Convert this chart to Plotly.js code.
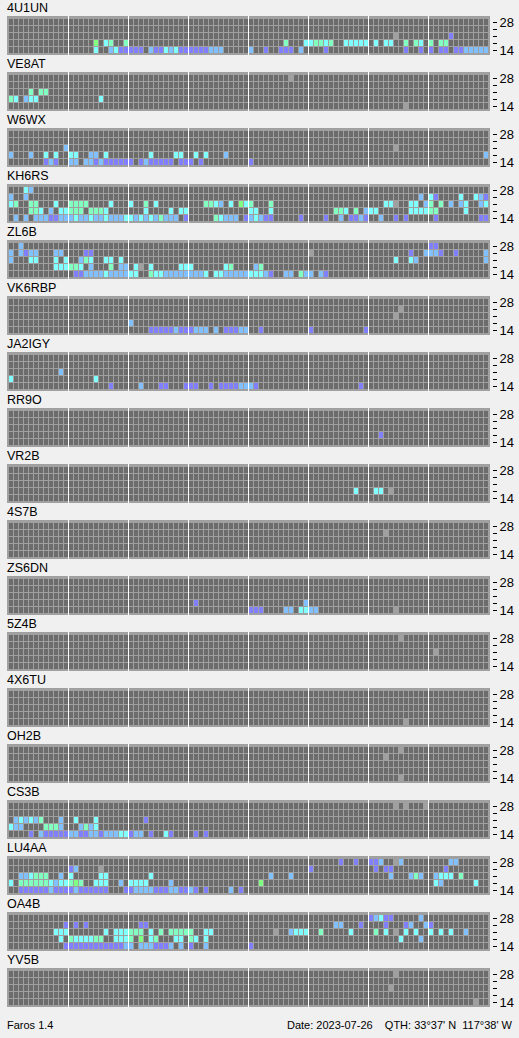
<!DOCTYPE html>
<html><head><meta charset="utf-8">
<script src="https://cdn.plot.ly/plotly-3.0.1.min.js"></script>
<style>html,body{margin:0;padding:0;background:#f0f0f0;overflow:hidden}</style>
</head><body><div id="chart" style="width:519px;height:1038px"></div>
<script>
// Beacon names, top to bottom
const beacons = ["4U1UN","VE8AT","W6WX","KH6RS","ZL6B","VK6RBP","JA2IGY","RR9O","VR2B","4S7B","ZS6DN","5Z4B","4X6TU","OH2B","CS3B","LU4AA","OA4B","YV5B"];
// Band rows bottom -> top (14,18,21,24,28 MHz); only ends labelled
const bandTicks = ["14","","","","28"];
const slotCount = 96;           // 15-minute slots over 24 h
const sectionSlots = 12;        // white separator every 3 h
// level: 0 = no copy, 1..5 = signal level, x = not monitored
const levelColors = ["#6c6c6c","#8080ff","#80c0ff","#80ffff","#80ffc0","#80ff80"];

// Each beacon: rows [28, 24, 21, 18, 14]; tokens "slot:level" or "from-to:level"
const d_4U1UN = ["", "", "77:x 88:1",
  "17:5 19:3 20:4 23:4 55:4 59:3 60:3 61:4 62:4 63:3 64:4 67-71:3 73:3 75:3 76:3 79:4 81:4 82:3 84:4 86:4 87:4",
  "17:3 20:2 21:3 22-26:1 28:2 29:1 30:1 31:3 32:2 33:3 34-39:1 40-42:2 48:2 51:1 54-56:1 58:2 63:1 79:1 82:1 84:1 86:1 87:1 89:1 90:1 91-95:2"];
const d_VE8AT = ["56:x", "", "4:4 6:4 7:4", "0:4 1:3 3:2 4:3 5:3 18:3", "79:x"];
const d_W6WX = ["", "", "11:2 77:x",
  "0:2 4:2 7:3 9:3 12:3 13:3 16:2 17:2 19:3 28:3 33:3 34:3 37:3 39:3 43:2 95:2",
  "7:1 8:2 9:1 12:2 13:2 15:2 16:2 17:1 18:2 19-24:1 26:1 27:2 28-32:1 34-36:1 38:1 48:1"];
const d_KH6RS = ["3:3 4:2",
  "0:2 3:2 82:2 84:3 85:1 90:3 93:3 94:2 95:1",
  "0:3 1:4 4:4 5:4 9:3 12:4 13:4 14:4 15:4 20:3 24:3 27:4 29:3 39:4 40:4 41:3 42:2 44:3 46:5 47:3 48:4 52:4 75:3 76:3 77:x 80:3 81:3 83:2 84:4 86:4 88:2 90:2 91:3 94:2 95:3",
  "4:4 5:4 6:3 8:2 10:3 11:3 12:4 13:4 14:4 16:4 17:4 18:4 19:3 27:3 32:3 34:3 35:3 48:3 49:3 52:3 65:4 66:4 67:3 69:4 71:2 72:3 73:3 80-83:3 84:4 85:4 91:3",
  "1:2 3:2 5:2 6:2 7:2 8:1 9:1 10:2 11:2 12:2 13:3 14:2 15:2 16:3 17:2 18:2 19:3 20-22:2 23:3 24:3 25:2 26:3 27:2 28:3 29:2 30:4 31-33:2 35:1 41:4 42:3 43-45:2 47:1 48:2 49:3 50:2 51:1 52:1 58:1 63:1 66:2 68:1 69:1 70:2 71:1 74:2 77:1 79:1 85:1 94:1 95:1"];
const d_ZL6B = ["2:2 84:1 85:1",
  "0:2 2:2 3:1 4:2 5:2 9:2 10:2 15:1 16:1 60:x 80:1 83:2 84:2 85:2 86:1 89:1 95:2",
  "0:2 4:3 5:3 9:3 11:3 14:2 15:4 16:3 19:3 20:3 22:3 77:3 80:3 81:2 95:2",
  "9-11:3 12:4 13:4 14:3 16:2 20:4 22:2 23:2 25:3 26:x 28:3 34-36:3 43:3 44:4 49:2 50:4",
  "13:1 14:1 15-18:2 19:3 20-23:2 24:3 25:3 28:4 29:3 30:3 31-38:2 39:3 41:3 42:3 43-47:2 48-50:3 51:2 52:1 55:2 56:2 58:4 59:2 60:2 62:2 63:1"];
const d_VK6RBP = ["", "78:x", "77:x", "24:2", "28-32:1 33:2 34-36:1 37-39:2 41:2 43-45:1 46:2 47:2 50:1 60:1 71:1"];
const d_JA2IGY = ["", "", "10:2", "0:3 17:3", "20:1 26:2 30:1 31:1 35-37:1 40:1 42-45:1 46-48:2 49:1 70:1"];
const d_RR9O = ["", "", "", "74:1", ""];
const d_VR2B = ["", "", "", "69:3 73:3 74:3 76:x", ""];
const d_4S7B = ["", "75:x", "", "", ""];
const d_ZS6DN = ["", "", "", "37:1 59:2", "48-50:1 55:2 56:2 58:3 59:3 60:2 61:2 77:x"];
const d_5Z4B = ["78:x", "", "85:x", "", ""];
const d_4X6TU = ["", "", "", "", "79:x"];
const d_OH2B = ["78:x", "75:x", "", "", "78:x"];
const d_CS3B = ["77:x 79:x 83:x", "",
  "1:2 2:3 3:2 4:3 5:2 6:4 10:2 13:3 17:3 27:1",
  "0:3 1:2 2:2 7:4 8:4 9:4 10:2 14:2 15:4 16:2 17:3",
  "4:1 6:2 7-11:1 12:2 13:2 14:1 15:1 16:2 17:2 18:1 19-21:2 22:3 23:3 24:1 25:2 26:2 28:1 31:3 32:1 37:1 39:1"];
const d_LU4AA = ["66:1 69:1 72:1 73:1 74:2 77:x 78:2 88:2 89:2",
  "12:1 13:2 18:x 60:1 73:1 75:1 76:1 87:1",
  "2:2 3:2 4:3 5:4 6:4 7:4 10:2 12:3 18:3 19:3 28:3 52:2 56:2 76:2 80:2 81:4 82:2 85:2 86:3 87:3 88:3 90:4",
  "0:3 2-7:4 8:3 9:2 10:3 11:3 12:4 13:5 14:4 17:3 18:3 19:3 22:2 24-27:3 32:2 50:5 85:3 86:2 93:3",
  "2-7:1 8:2 9-12:1 13:2 14-19:1 23:1 24:1 25-28:2 29-31:1 32:2 33:2 34:1 35:1 36:2 37:1 39:1 44:2 46:1"];
const d_OA4B = ["72:1 73:2 74:3 75:1 76:1 82:2",
  "11:1 13:1 15:1 26:1 27:1 65:2 66:2 70:1 75:1 79:1 80:2 83:2 84:1",
  "9-11:3 19:3 21-23:3 24-26:4 28:3 30:4 32-36:4 39:3 40:3 53:x 56:2 57-59:3 62:4 68:3 73:4 75:3 77:x 79:3 81:3 84:3 86:3 88:3 91:2",
  "10:3 12:4 13-16:3 17:4 18:4 21-23:3 24:4 26:5 28:3 29:4 33:3 34:3 36:4 37:3 39:3 78:3 82:2",
  "11-22:1 23:2 24:2 26-28:2 29-31:1 32:2 34:2 36:1 39:2 48:1"];
const d_YV5B = ["77:x", "", "76:x", "", "93:x"];

const beaconData = [d_4U1UN,d_VE8AT,d_W6WX,d_KH6RS,d_ZL6B,d_VK6RBP,d_JA2IGY,d_RR9O,d_VR2B,d_4S7B,d_ZS6DN,d_5Z4B,d_4X6TU,d_OH2B,d_CS3B,d_LU4AA,d_OA4B,d_YV5B];

const footerLeft = "Faros 1.4";
const footerRight = "Date: 2023-07-26\u00a0\u00a0\u00a0\u00a0QTH: 33°37' N\u00a0\u00a0117°38' W";

function parseRow(s){
  const arr = new Array(slotCount).fill(0);
  s.trim().split(/\s+/).filter(Boolean).forEach(tok=>{
    const [rng,v] = tok.split(':');
    const parts = rng.split('-').map(Number);
    const a = parts[0], b = parts.length>1 ? parts[1] : parts[0];
    const val = v==='x' ? null : Number(v);
    for(let c=a;c<=b;c++) arr[c]=val;
  });
  return arr;
}

// discrete colorscale
const nLev = levelColors.length;
const cs = [];
levelColors.forEach((c,i)=>{
  const lo = i===0 ? 0 : (i-0.5)/(nLev-1);
  const hi = i===nLev-1 ? 1 : (i+0.5)/(nLev-1);
  cs.push([lo,c]); cs.push([hi,c]);
});

const W = 519, H = 1038;
const mL = 7, mR = 0, mT = 16, mB = 31;
const pw = W-mL-mR, ph = H-mT-mB;
const gridW = 483, panelH = 39, panelStep = 56;
const slots = Array.from({length:slotCount},(_,i)=>i);
const rowsY = [0,1,2,3,4];
const sepVals = [];
for(let k=sectionSlots;k<slotCount;k+=sectionSlots) sepVals.push(k-0.6);

const fontFam = "'Liberation Sans Narrow', 'Liberation Sans', Arial, sans-serif";
const data = [], layout = {
  width:W, height:H, margin:{l:mL,r:mR,t:mT,b:mB,pad:0},
  paper_bgcolor:'#f0f0f0', plot_bgcolor:'#a0a0a0', showlegend:false,
  font:{family:fontFam, size:13, color:'#000'},
  annotations:[]
};
beacons.forEach((name,i)=>{
  const sfx = i===0 ? '' : String(i+1);
  const z = beaconData[i].slice().reverse().map(parseRow);
  data.push({type:'heatmap', x:slots, y:rowsY, z:z, xaxis:'x'+sfx, yaxis:'y'+sfx,
    colorscale:cs, zmin:0, zmax:nLev-1, showscale:false, xgap:1, ygap:1, hoverinfo:'skip'});
  const top = 1 - (panelStep*i)/ph, bot = 1 - (panelStep*i+panelH)/ph;
  layout['xaxis'+sfx] = {domain:[0,gridW/pw], anchor:'y'+sfx, range:[-0.9,95.7],
    showticklabels:false, ticks:'', tickvals:sepVals, showgrid:true, gridcolor:'#ffffff', gridwidth:1,
    zeroline:false, showline:false, fixedrange:true};
  layout['yaxis'+sfx] = {domain:[bot,top], anchor:'free', position:(gridW+2)/pw, side:'right',
    range:[-0.642857,4.928571], tickvals:rowsY, ticktext:bandTicks, ticks:'outside', ticklen:4,
    tickwidth:1, tickcolor:'#000', showgrid:false, zeroline:false, showline:false, fixedrange:true,
    tickfont:{family:fontFam, size:13, color:'#000'}};
  layout.annotations.push({text:name, xref:'paper', yref:'paper', x:0, y:top, xanchor:'left', yanchor:'middle',
    yshift:8.5, xshift:-2, showarrow:false, font:{family:fontFam, size:12.5, color:'#000'}});
});
layout.annotations.push({text:footerLeft, xref:'paper', yref:'paper', x:0, y:0, xanchor:'left', yanchor:'middle',
  yshift:-18, xshift:-2, showarrow:false, font:{family:"'Liberation Sans', Arial, sans-serif", size:11, color:'#000'}});
layout.annotations.push({text:footerRight, xref:'paper', yref:'paper', x:1, y:0, xanchor:'right', yanchor:'middle',
  yshift:-18, xshift:-4, showarrow:false, font:{family:"'Liberation Sans', Arial, sans-serif", size:11, color:'#000'}});

Plotly.newPlot('chart', data, layout, {staticPlot:true, displayModeBar:false});
</script></body></html>
